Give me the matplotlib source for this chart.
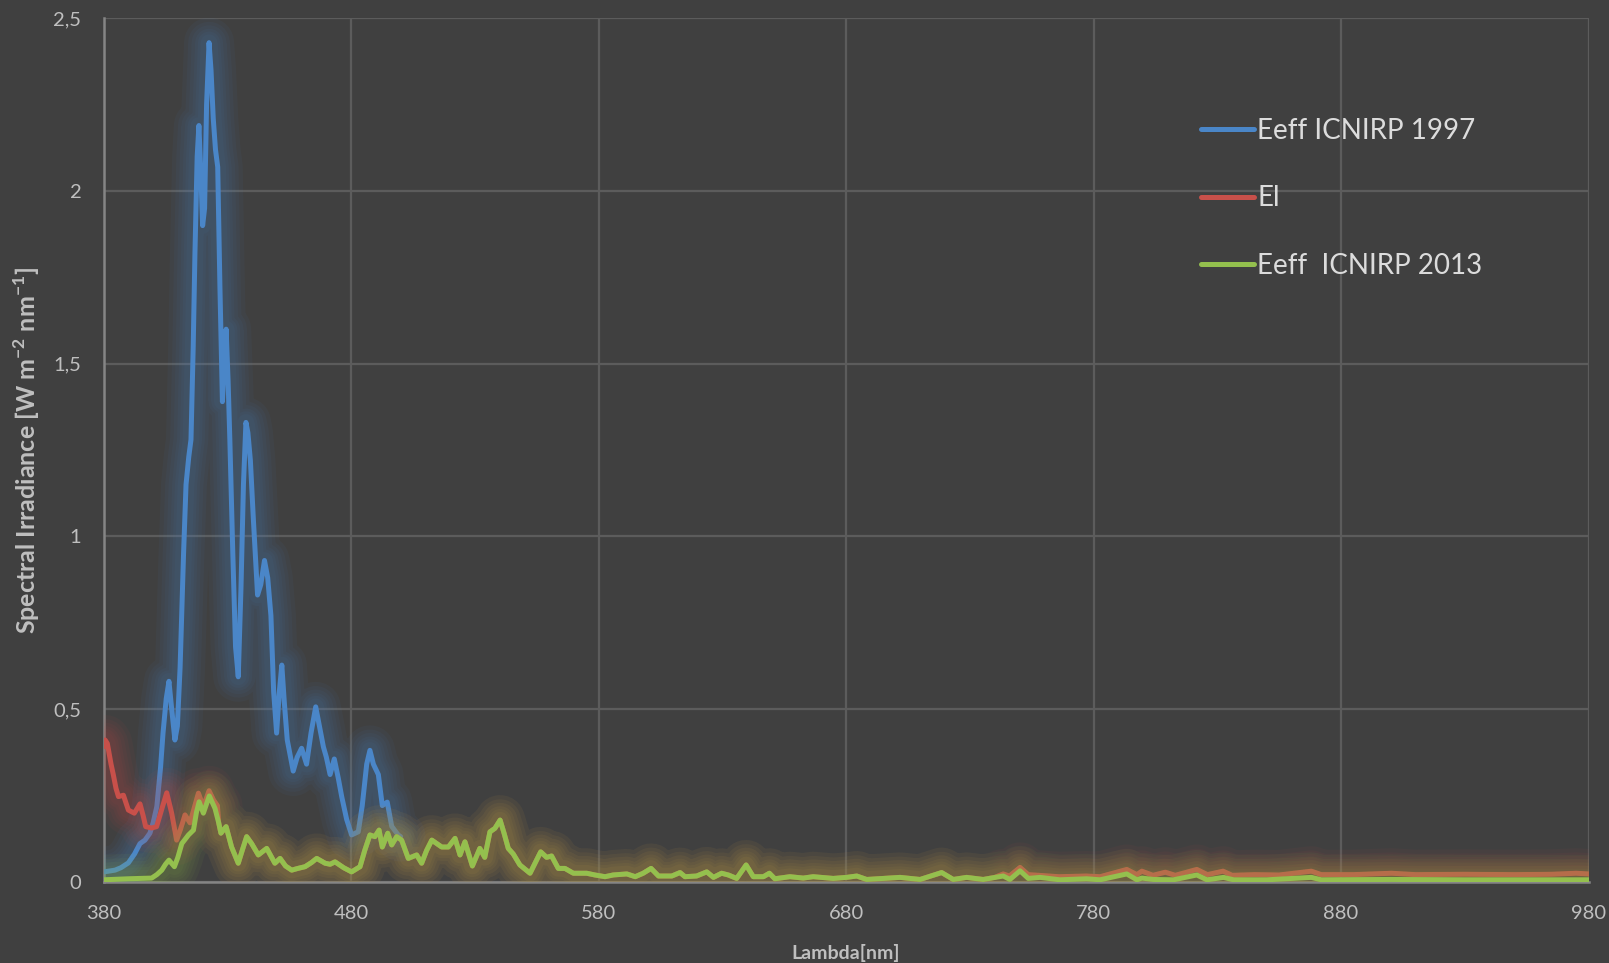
import matplotlib
matplotlib.use('Agg')
import matplotlib.pyplot as plt
import matplotlib.patheffects as pe
from matplotlib.lines import Line2D
from matplotlib.ticker import FuncFormatter
import numpy as np

# Eeff ICNIRP 1997 (only defined up to 500 nm)
blue_nm = [380, 382, 384.6, 387, 390, 392.5, 394.7, 396.7, 398.7, 400, 401.5, 403, 404,
           405.3, 406.4, 407.5, 408.8, 409.8, 410.9, 412.3, 413.3, 414.4, 415.3, 416.2,
           416.9, 417.8, 418.5, 419.3, 420.0, 420.8, 421.6, 422.6, 423.4, 424.3, 425.2,
           426.1, 427.0, 428.0, 428.7, 429.5, 430.3, 431.0, 432.2, 433.3, 434.4, 435.5,
           436.5, 437.5, 438.3, 439.3, 440.5, 442.2, 443.5, 445, 446.3, 447.6, 448.7,
           449.9, 451.0, 452, 453, 454.2, 456.6, 458.2, 460, 462, 463.8, 465.7, 467.2,
           468.8, 470, 471.5, 473.2, 474.8, 476.2, 478.2, 480.2, 482.9, 484.5, 486.3,
           487.6, 489, 491, 492.6, 494.6, 496.4, 499, 500]
blue_val = [0.028, 0.03, 0.033, 0.04, 0.054, 0.08, 0.11, 0.12, 0.14, 0.17, 0.217, 0.33, 0.43,
            0.53, 0.58, 0.50, 0.41, 0.45, 0.62, 0.95, 1.15, 1.23, 1.28, 1.55,
            1.82, 2.10, 2.19, 2.05, 1.90, 1.95, 2.25, 2.43, 2.35, 2.21, 2.12,
            2.07, 1.72, 1.39, 1.50, 1.60, 1.45, 1.28, 0.95, 0.68, 0.593, 0.85,
            1.15, 1.33, 1.30, 1.22, 1.05, 0.83, 0.86, 0.93, 0.88, 0.77, 0.55,
            0.43, 0.55, 0.627, 0.52, 0.41, 0.32, 0.36, 0.386, 0.34, 0.43, 0.506, 0.45,
            0.39, 0.36, 0.31, 0.355, 0.30, 0.246, 0.18, 0.135, 0.144, 0.22, 0.34,
            0.38, 0.34, 0.31, 0.22, 0.23, 0.16, 0.135, 0.13]

# Eeff ICNIRP 2013
green_nm = [380, 390, 399.4, 401.5, 403.5, 405, 406.4, 408.6, 410, 411.6, 414.3, 416.3, 417.5,
            418.6, 420.3, 422.7, 425, 426.5, 427.4, 429.5, 431.7, 434.4, 436, 437.8, 439.8,
            442.5, 445.9, 449.2, 451.3, 453.5, 456, 458.5, 461.4, 464, 466.1, 469.5, 471.5,
            473.5, 477, 480.2, 483.6, 485.5, 487.6, 489.6, 491.3, 492.6, 494.8, 496.4, 498.4,
            500.4, 503.1, 506.5, 508.5, 510.5, 512.6, 516.6, 519.3, 522, 524, 526, 529, 532,
            534, 536.1, 538.1, 540.2, 541.8, 543.5, 545.5, 548.2, 552.3, 556.6, 559, 561,
            563.7, 566.4, 569.8, 575.2, 578.5, 582.6, 585.9, 591.4, 594.8, 598, 601.2, 604.2,
            609.6, 612.9, 614.9, 619.6, 623.7, 626.4, 629.7, 632.4, 635.8, 639.6, 642.5,
            646.6, 649, 651.2, 657.3, 662.7, 666.7, 674.8, 680.2, 684.3, 688.3, 701.8, 709.9,
            718.6, 723.3, 728.7, 735.4, 743.5, 746.2, 750.3, 753.6, 758.4, 766.4, 777.2,
            782.6, 793.4, 797.5, 799.5, 804.2, 812.3, 821.7, 825.8, 832.5, 836.6, 850, 868,
            872, 900, 930, 960, 980]
green_val = [0.005, 0.008, 0.01, 0.02, 0.033, 0.05, 0.062, 0.043, 0.07, 0.11, 0.135, 0.149, 0.2,
             0.231, 0.198, 0.248, 0.212, 0.17, 0.14, 0.159, 0.10, 0.053, 0.09, 0.13, 0.11,
             0.077, 0.096, 0.053, 0.067, 0.045, 0.033, 0.038, 0.043, 0.055, 0.067, 0.053, 0.05,
             0.057, 0.04, 0.028, 0.043, 0.09, 0.135, 0.13, 0.149, 0.10, 0.14, 0.106, 0.13,
             0.12, 0.067, 0.077, 0.053, 0.09, 0.12, 0.10, 0.10, 0.125, 0.077, 0.115, 0.045, 0.096,
             0.07, 0.144, 0.154, 0.178, 0.14, 0.096, 0.08, 0.048, 0.024, 0.086, 0.07, 0.074,
             0.038, 0.038, 0.024, 0.024, 0.019, 0.014, 0.019, 0.022, 0.014, 0.024, 0.038, 0.016,
             0.016, 0.026, 0.014, 0.016, 0.028, 0.012, 0.024, 0.019, 0.009, 0.048, 0.014,
             0.014, 0.024, 0.008, 0.014, 0.01, 0.014, 0.009, 0.012, 0.016, 0.006, 0.012, 0.006,
             0.026, 0.006, 0.012, 0.006, 0.016, 0.006, 0.031, 0.009, 0.012, 0.005, 0.008,
             0.005, 0.022, 0.005, 0.01, 0.006, 0.005, 0.019, 0.005, 0.012, 0.005, 0.005, 0.012,
             0.005, 0.006, 0.005, 0.005, 0.005]

# El: own readings below 427 nm and above 740 nm, runs under the 2013 curve in between
red_nm_lo = [380, 380.6, 381.5, 383, 383.9, 385, 386, 388, 390, 392.4, 394.7, 396, 397, 399.4,
             401.4, 403.5, 405.5, 407.5, 409.5, 411, 412.9, 414.9, 416.5, 418.3, 420.3, 422.6,
             424.5, 426]
red_val_lo = [0.39, 0.41, 0.40, 0.34, 0.31, 0.27, 0.246, 0.25, 0.207, 0.198, 0.225, 0.19, 0.159,
              0.155, 0.159, 0.21, 0.257, 0.198, 0.12, 0.15, 0.193, 0.17, 0.21, 0.256, 0.217,
              0.263, 0.235, 0.22]
red_nm_hi = [740, 743.5, 746, 750.3, 753.6, 758, 766, 777, 782.6, 793.4, 797.5, 799.5, 804, 809,
             813, 821.7, 826, 832.3, 836, 845, 855, 868, 872, 885, 900.4, 910, 930, 950, 965,
             975, 980]
red_val_hi = [0.012, 0.022, 0.016, 0.041, 0.02, 0.018, 0.014, 0.016, 0.014, 0.035, 0.02, 0.03,
              0.018, 0.027, 0.018, 0.035, 0.02, 0.03, 0.018, 0.02, 0.019, 0.03, 0.02, 0.02,
              0.024, 0.02, 0.021, 0.02, 0.021, 0.024, 0.022]

labels = ['Eeff ICNIRP 1997', 'El', 'Eeff  ICNIRP 2013']
colors = ['#4a86c8', '#c8504a', '#94c04e']

bg = '#404040'
txt = '#bfbfbf'
plt.rcParams['font.family'] = ['Lato', 'DejaVu Sans']

g_nm = np.array(green_nm)
g_val = np.array(green_val)
mid = (g_nm > 426) & (g_nm < 740)
red_nm = np.concatenate([red_nm_lo, g_nm[mid], red_nm_hi])
red_val = np.concatenate([red_val_lo, g_val[mid], red_val_hi])

series = [(blue_nm, blue_val), (red_nm, red_val), (green_nm, green_val)]

fig = plt.figure(figsize=(16.09, 9.63), dpi=100, facecolor=bg)
ax = fig.add_axes([0.0644, 0.0846, 0.9229, 0.8962])
ax.set_facecolor(bg)


def glow(color):
    # soft halo: several wide, faint strokes under the line
    fx = [pe.Stroke(linewidth=w, foreground=color, alpha=0.055)
          for w in (36, 30, 25, 20, 16, 12)]
    return fx + [pe.Normal()]


for i, (x, y) in enumerate(series):
    ax.plot(x, y, color=colors[i], lw=3.6, solid_joinstyle='round', solid_capstyle='round',
            path_effects=glow(colors[i]), zorder=3 + i)

ax.set_xlim(380, 980)
ax.set_ylim(0, 2.5)
ax.set_xticks(np.arange(380, 981, 100))
ax.set_yticks(np.arange(0, 2.51, 0.5))
ax.yaxis.set_major_formatter(FuncFormatter(lambda v, p: ('%g' % v).replace('.', ',')))
ax.grid(True, color='#5c5c5c', lw=1.6, zorder=0)
ax.set_axisbelow(True)
for s in ['top', 'right']:
    ax.spines[s].set_visible(False)
for s in ['left', 'bottom']:
    ax.spines[s].set_color('#858585')
    ax.spines[s].set_linewidth(1.8)
ax.tick_params(axis='both', length=0, labelsize=14.5, colors=txt)
ax.tick_params(axis='x', pad=17)
ax.tick_params(axis='y', pad=16)

ax.set_xlabel('Lambda[nm]', fontsize=14, fontweight='bold', color=txt, labelpad=16)
ax.set_ylabel('Spectral Irradiance [W m$^{\\mathregular{-2}}$ nm$^{\\mathregular{-1}}$]',
              fontsize=18, fontweight='bold', color=txt, labelpad=8)

handles = [Line2D([], [], color=c, lw=3.6, solid_capstyle='round') for c in colors]
leg = ax.legend(handles, labels, loc='upper left', bbox_to_anchor=(0.7315, 0.898),
                frameon=False, fontsize=20, handlelength=1.9, handletextpad=0.12,
                labelspacing=1.5, borderaxespad=0)
for t in leg.get_texts():
    t.set_color('#dcdcdc')

fig.savefig('out.png', dpi=100, facecolor=bg)
